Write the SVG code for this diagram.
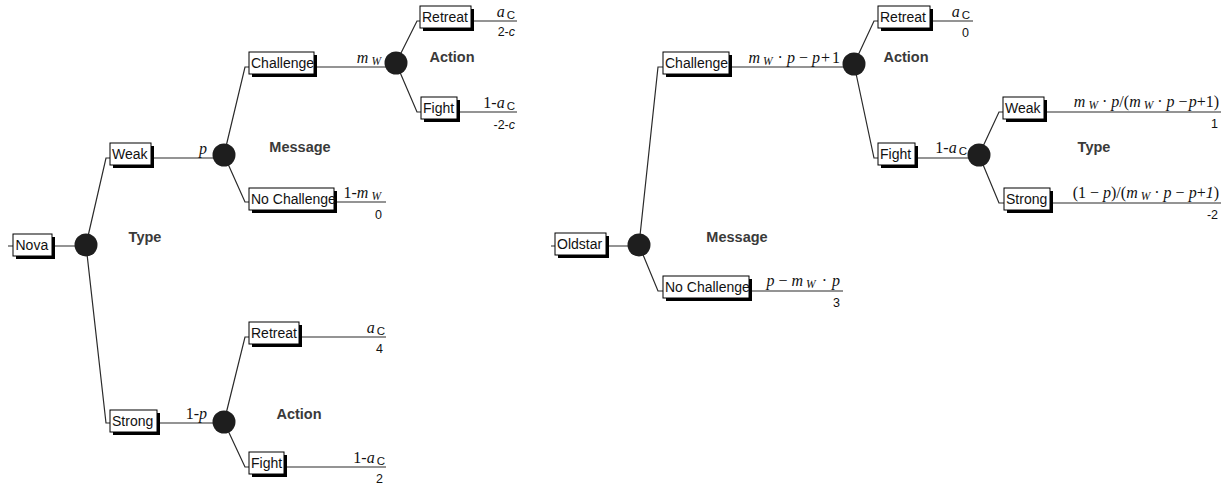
<svg xmlns="http://www.w3.org/2000/svg" width="1225" height="489" viewBox="0 0 1225 489">
<style>
.bg{fill:#ffffff}
.ln{fill:none;stroke:#2a2a2a;stroke-width:1.2}
.sh{fill:#000000}
.bx{fill:#ffffff;stroke:#000000;stroke-width:1}
.bl{font-family:"Liberation Sans",Arial,sans-serif;font-size:14px;fill:#111111}
.ch{fill:#1e1e1e}
.tt{font-family:"Liberation Sans",Arial,sans-serif;font-size:14.5px;font-weight:bold;fill:#3a3a3a;text-anchor:middle}
.m{font-family:"Liberation Serif","Times New Roman",serif;font-size:16px;fill:#111111;text-anchor:end}
.i{font-style:italic}
.sub{font-size:11.5px}
.ss{font-family:"Liberation Sans",Arial,sans-serif;font-style:normal}
.pay{font-family:"Liberation Sans",Arial,sans-serif;font-size:12.5px;fill:#111111;text-anchor:end}
</style>
<rect class="bg" x="0" y="0" width="1225" height="489"/>

<g id="connectors">
<path class="ln" d="M8,246 H13 M52,246 H86"/>
<path class="ln" d="M86,245 L106,158 H110 M86,245 L106,423 H110"/>
<path class="ln" d="M151,158 H224 M157,423 H224"/>
<path class="ln" d="M224,155 L245,67 H249 M224,155 L245,202 H249"/>
<path class="ln" d="M314,67 H396 M334,202 H386"/>
<path class="ln" d="M396,63 L417,21 H420 M396,63 L417,112 H421"/>
<path class="ln" d="M471,21 H517 M457,112 H517"/>
<path class="ln" d="M224,422 L245,337 H249 M224,422 L245,467 H249"/>
<path class="ln" d="M299,337 H386 M284,467 H386"/>

<path class="ln" d="M551,246 H555 M606,246 H639"/>
<path class="ln" d="M639,245 L658,67 H663 M639,245 L658,291 H663"/>
<path class="ln" d="M729,67 H854 M749,291 H843"/>
<path class="ln" d="M854,64 L874,21 H878 M854,64 L874,158 H878"/>
<path class="ln" d="M930,21 H973 M915,158 H979"/>
<path class="ln" d="M979,155 L999,112 H1003 M979,155 L999,203 H1004"/>
<path class="ln" d="M1044,112 H1221 M1050,203 H1221"/>
</g>

<g id="branch-labels">
<text class="m" x="207" y="154"><tspan class="i">p</tspan></text>
<text class="m" x="207" y="419">1-<tspan class="i">p</tspan></text>
<text class="m" x="381" y="63"><tspan class="i">m</tspan><tspan class="i sub" dx="3" dy="2">W</tspan></text>
<text class="m" x="381" y="198">1-<tspan class="i">m</tspan><tspan class="i sub" dx="3" dy="2">W</tspan></text>
<text class="m" x="515" y="17"><tspan class="i">a</tspan><tspan class="sub ss" dx="2" dy="2">C</tspan></text>
<text class="pay" x="515" y="36">2-<tspan class="i">c</tspan></text>
<text class="m" x="515" y="108">1-<tspan class="i">a</tspan><tspan class="sub ss" dx="2" dy="2">C</tspan></text>
<text class="pay" x="515" y="129">-2-<tspan class="i">c</tspan></text>
<text class="pay" x="382" y="219">0</text>
<text class="m" x="385" y="333"><tspan class="i">a</tspan><tspan class="sub ss" dx="2" dy="2">C</tspan></text>
<text class="pay" x="383" y="353">4</text>
<text class="m" x="385" y="463">1-<tspan class="i">a</tspan><tspan class="sub ss" dx="2" dy="2">C</tspan></text>
<text class="pay" x="383" y="483">2</text>

<text class="m" x="840" y="63"><tspan class="i">m</tspan><tspan class="i sub" dx="3" dy="2">W</tspan><tspan dy="-2" dx="1"> · </tspan><tspan class="i">p</tspan> − <tspan class="i">p</tspan><tspan dx="1">+</tspan><tspan dx="2">1</tspan></text>
<text class="m" x="840" y="286"><tspan class="i">p</tspan> − <tspan class="i">m</tspan><tspan class="i sub" dx="3" dy="2">W</tspan><tspan dy="-2" dx="2"> · </tspan><tspan class="i" dx="1">p</tspan></text>
<text class="pay" x="840" y="307">3</text>
<text class="m" x="970" y="17"><tspan class="i">a</tspan><tspan class="sub ss" dx="2" dy="2">C</tspan></text>
<text class="pay" x="969" y="37">0</text>
<text class="m" x="967" y="153">1-<tspan class="i">a</tspan><tspan class="sub ss" dx="2" dy="2">C</tspan></text>
<text class="m" x="1219" y="107"><tspan class="i">m</tspan><tspan class="i sub" dx="3" dy="2">W</tspan><tspan dy="-2"> · </tspan><tspan class="i">p</tspan>/(<tspan class="i">m</tspan><tspan class="i sub" dx="3" dy="2">W</tspan><tspan dy="-2"> · </tspan><tspan class="i">p</tspan> −<tspan class="i" dx="1">p</tspan>+1)</text>
<text class="pay" x="1218" y="128">1</text>
<text class="m" x="1219" y="198">(1 − <tspan class="i">p</tspan>)/(<tspan class="i">m</tspan><tspan class="i sub" dx="3" dy="2">W</tspan><tspan dy="-2"> · </tspan><tspan class="i">p</tspan> − <tspan class="i">p</tspan>+<tspan class="i">1</tspan>)</text>
<text class="pay" x="1218" y="219">-2</text>
</g>

<g id="nova">
<rect class="sh" x="16" y="237" width="39" height="22"/>
<rect class="bx" x="13" y="234" width="39" height="22"/>
<text class="bl" x="15.5" y="250">Nova</text>
</g>
<g id="type-left">
<circle class="ch" cx="86" cy="245" r="11.5"/>
<text class="tt" x="145" y="242">Type</text>
</g>
<g id="weak-left">
<rect class="sh" x="113" y="146" width="41" height="22"/>
<rect class="bx" x="110" y="143" width="41" height="22"/>
<text class="bl" x="112" y="159">Weak</text>
</g>
<g id="strong-left">
<rect class="sh" x="113" y="413" width="47" height="22"/>
<rect class="bx" x="110" y="410" width="47" height="22"/>
<text class="bl" x="112" y="426">Strong</text>
</g>
<g id="message-left">
<circle class="ch" cx="224" cy="155" r="11.5"/>
<text class="tt" x="300" y="152">Message</text>
</g>
<g id="action-left-bottom">
<circle class="ch" cx="224" cy="422" r="11.5"/>
<text class="tt" x="299" y="419">Action</text>
</g>
<g id="challenge-left">
<rect class="sh" x="252" y="55" width="65" height="22"/>
<rect class="bx" x="249" y="52" width="65" height="22"/>
<text class="bl" x="251" y="68">Challenge</text>
</g>
<g id="nochallenge-left">
<rect class="sh" x="252" y="191" width="85" height="22"/>
<rect class="bx" x="249" y="188" width="85" height="22"/>
<text class="bl" x="251" y="204">No Challenge</text>
</g>
<g id="action-left-top">
<circle class="ch" cx="396" cy="63" r="11.5"/>
<text class="tt" x="452" y="62">Action</text>
</g>
<g id="retreat-left-top">
<rect class="sh" x="423" y="9" width="51" height="22"/>
<rect class="bx" x="420" y="6" width="51" height="22"/>
<text class="bl" x="422" y="22">Retreat</text>
</g>
<g id="fight-left-top">
<rect class="sh" x="424" y="100" width="36" height="22"/>
<rect class="bx" x="421" y="97" width="36" height="22"/>
<text class="bl" x="423" y="113">Fight</text>
</g>
<g id="retreat-left-bottom">
<rect class="sh" x="252" y="325" width="50" height="22"/>
<rect class="bx" x="249" y="322" width="50" height="22"/>
<text class="bl" x="251" y="338">Retreat</text>
</g>
<g id="fight-left-bottom">
<rect class="sh" x="252" y="455" width="35" height="22"/>
<rect class="bx" x="249" y="452" width="35" height="22"/>
<text class="bl" x="251" y="468">Fight</text>
</g>

<g id="oldstar">
<rect class="sh" x="558" y="236" width="51" height="22"/>
<rect class="bx" x="555" y="233" width="51" height="22"/>
<text class="bl" x="557" y="249">Oldstar</text>
</g>
<g id="message-right">
<circle class="ch" cx="639" cy="245" r="11.5"/>
<text class="tt" x="737" y="242">Message</text>
</g>
<g id="challenge-right">
<rect class="sh" x="666" y="55" width="66" height="22"/>
<rect class="bx" x="663" y="52" width="66" height="22"/>
<text class="bl" x="665" y="68">Challenge</text>
</g>
<g id="nochallenge-right">
<rect class="sh" x="666" y="279" width="86" height="22"/>
<rect class="bx" x="663" y="276" width="86" height="22"/>
<text class="bl" x="665" y="292">No Challenge</text>
</g>
<g id="action-right">
<circle class="ch" cx="854" cy="64" r="11.5"/>
<text class="tt" x="906" y="62">Action</text>
</g>
<g id="retreat-right">
<rect class="sh" x="881" y="9" width="52" height="22"/>
<rect class="bx" x="878" y="6" width="52" height="22"/>
<text class="bl" x="880" y="22">Retreat</text>
</g>
<g id="fight-right">
<rect class="sh" x="881" y="146" width="37" height="22"/>
<rect class="bx" x="878" y="143" width="37" height="22"/>
<text class="bl" x="880" y="159">Fight</text>
</g>
<g id="type-right">
<circle class="ch" cx="979" cy="155" r="11.5"/>
<text class="tt" x="1094" y="152">Type</text>
</g>
<g id="weak-right">
<rect class="sh" x="1006" y="100" width="41" height="22"/>
<rect class="bx" x="1003" y="97" width="41" height="22"/>
<text class="bl" x="1005" y="113">Weak</text>
</g>
<g id="strong-right">
<rect class="sh" x="1007" y="191" width="46" height="22"/>
<rect class="bx" x="1004" y="188" width="46" height="22"/>
<text class="bl" x="1006" y="204">Strong</text>
</g>
</svg>
